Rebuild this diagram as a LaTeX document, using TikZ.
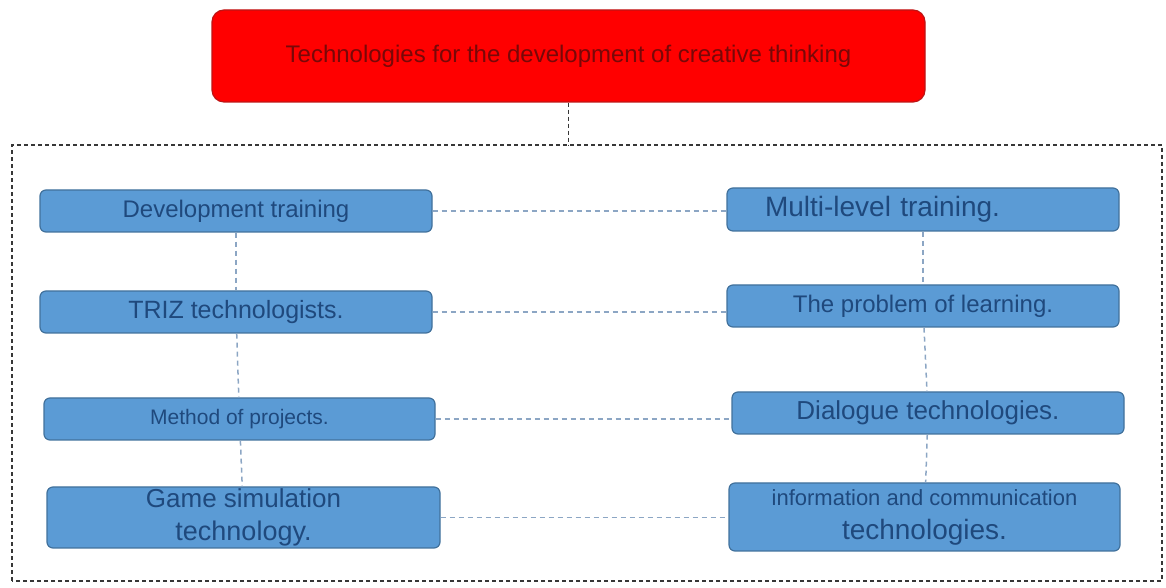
\documentclass[tikz,border=0pt]{standalone}
\usepackage{fontspec}
\setmainfont{Liberation Sans}
\usetikzlibrary{positioning}
\definecolor{boxblue}{RGB}{91,155,213}
\definecolor{boxedge}{RGB}{65,113,156}
\definecolor{textblue}{RGB}{31,73,125}
\definecolor{titleedge}{RGB}{190,20,20}
\definecolor{titletext}{RGB}{120,8,8}
\definecolor{linkgray}{RGB}{140,166,196}
\definecolor{framegray}{RGB}{55,55,55}
\tikzset{
  techbox/.style={draw=boxedge, line width=1.2pt, fill=boxblue, rounded corners=6pt, text=textblue,
    minimum width=392pt, minimum height=42pt, inner sep=0pt, align=center},
  titlebox/.style={draw=titleedge, line width=1.2pt, fill=red, rounded corners=12pt, text=titletext,
    minimum width=713pt, minimum height=92pt, inner sep=0pt},
  dashlink/.style={draw=linkgray, line width=1.5pt, dash pattern=on 5pt off 4pt},
  groupframe/.style={draw=framegray, line width=1.4pt, dash pattern=on 4pt off 3pt}
}

\begin{document}
\begin{tikzpicture}[x=1pt, y=1pt, font=\fontsize{24}{28}\selectfont]
		\useasboundingbox (0,0) rectangle (1166,588);
		\node[titlebox, font=\fontsize{24}{28}\selectfont] (title) at (568.5,532) {Technologies for the development of creative thinking};
		
		\draw[groupframe] (12,7) rectangle (1162,443);
		\coordinate (frametop) at (568.5,443);
		\draw[groupframe] (title) -- (frametop);
		
		% left column
		\node[techbox, font=\fontsize{24}{28}\selectfont] (devtrain) at (236,377) {Development training};
		\node[techbox, font=\fontsize{25}{28}\selectfont] (triz) at (236,276) {TRIZ technologists.};
		\node[techbox, minimum width=391pt, font=\fontsize{21}{25}\selectfont] (projects) at (239.5,169) {Method of projects.};
		\node[techbox, minimum width=393pt, minimum height=61pt] (game) at (243.5,70.5) {\fontsize{26}{30}\selectfont Game simulation\\[5pt] \fontsize{27}{30}\selectfont technology.};
		
		% right column
		\node[techbox, minimum height=43pt, align=left, text width=316pt, inner xsep=38pt, font=\fontsize{28}{32}\selectfont] (multilevel) at (923,378.5) {Multi-level training.};
		\node[techbox, font=\fontsize{24}{28}\selectfont] (problem) at (923,282) {The problem of learning.};
		\node[techbox, font=\fontsize{26}{30}\selectfont] (dialogue) at (928,175) {Dialogue technologies.};
		\node[techbox, minimum width=391pt, minimum height=68pt] (ict) at (924.5,71) {\fontsize{22}{26}\selectfont information and communication\\[6pt] \fontsize{28}{32}\selectfont technologies.};
		
		\draw[dashlink] (devtrain) -- (triz);
		\draw[dashlink] (triz) -- (projects);
		\draw[dashlink] (projects) -- (game);
		\draw[dashlink] (multilevel) -- (problem);
		\draw[dashlink] (problem) -- (dialogue);
		\draw[dashlink] (dialogue) -- (ict);
		
		\draw[dashlink] (devtrain.east) -- (devtrain.east -| multilevel.west);
		\draw[dashlink] (triz.east) -- (triz.east -| problem.west);
		\draw[dashlink] (projects.east) -- (projects.east -| dialogue.west);
		\draw[dashlink] (game.east) -- (game.east -| ict.west);
	\end{tikzpicture}
\end{document}
